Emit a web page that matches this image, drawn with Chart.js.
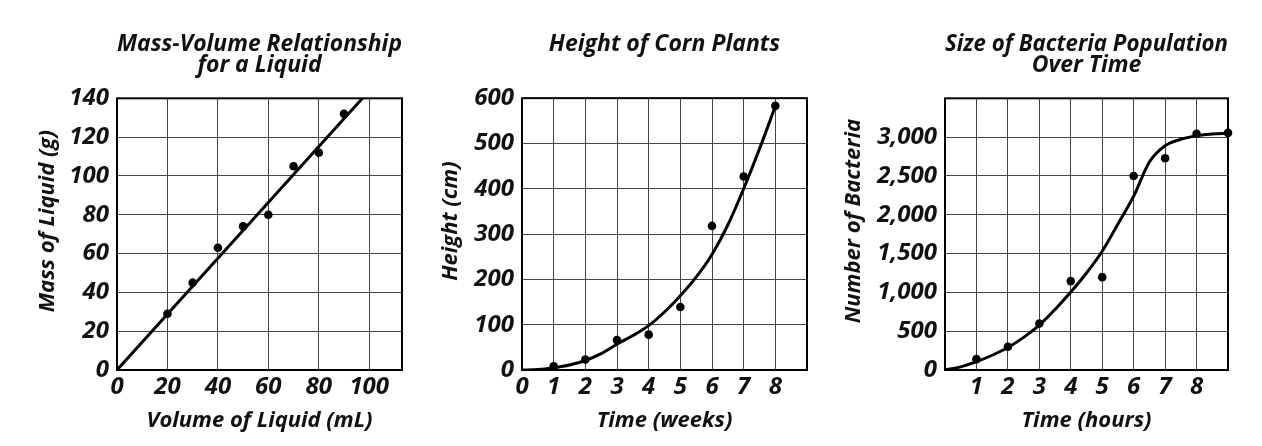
<!DOCTYPE html>
<html>
<head>
<meta charset="utf-8">
<script src="https://cdn.jsdelivr.net/npm/chart.js@4.4.0/dist/chart.umd.min.js"></script>
<style>
  html, body { margin: 0; padding: 0; background: #fff; }
  #wrap { position: relative; width: 1262px; height: 446px; background: #fff; overflow: hidden; }
  canvas { position: absolute; top: 0; }
</style>
</head>
<body>
<div id="wrap">
  <canvas id="c1" width="420" height="446" style="left:0px"></canvas>
  <canvas id="c2" width="420" height="446" style="left:420px"></canvas>
  <canvas id="c3" width="422" height="446" style="left:840px"></canvas>
</div>
<script>
// ---------- Chart 1: Mass-Volume Relationship ----------
const massTitle = ['Mass-Volume Relationship', 'for a Liquid'];
const massXLabel = 'Volume of Liquid (mL)';
const massYLabel = 'Mass of Liquid (g)';
const massVolume = [20, 30, 40, 50, 60, 70, 80, 90];
const massValues = [29, 45, 63, 74, 80, 105, 112, 132];
const massFitX = [0, 97.3];
const massFitY = [0, 140];
const massXTicks = [0, 20, 40, 60, 80, 100];
const massYTicks = [0, 20, 40, 60, 80, 100, 120, 140];

// ---------- Chart 2: Height of Corn Plants ----------
const cornTitle = ['Height of Corn Plants'];
const cornXLabel = 'Time (weeks)';
const cornYLabel = 'Height (cm)';
const cornWeeks = [1, 2, 3, 4, 5, 6, 7, 8];
const cornHeights = [8, 23, 66, 78, 139, 318, 427, 583];
const cornFitX = [0, 0.5, 1, 1.5, 2, 2.5, 3, 3.5, 4, 4.5, 5, 5.5, 6, 6.5, 7, 7.5, 8];
const cornFitY = [0, 1, 5, 11, 21, 36, 57, 76, 98, 128, 164, 205, 255, 320, 400, 488, 582];
const cornXTicks = [0, 1, 2, 3, 4, 5, 6, 7, 8];
const cornYTicks = [0, 100, 200, 300, 400, 500, 600];

// ---------- Chart 3: Size of Bacteria Population ----------
const bactTitle = ['Size of Bacteria Population', 'Over Time'];
const bactXLabel = 'Time (hours)';
const bactYLabel = 'Number of Bacteria';
const bactHours = [1, 2, 3, 4, 5, 6, 7, 8, 9];
const bactCounts = [140, 300, 600, 1145, 1196, 2500, 2727, 3043, 3055];
const bactFitX = [0, 0.5, 1, 1.5, 2, 2.5, 3, 3.5, 4, 4.5, 5, 5.5, 6, 6.5, 7, 7.5, 8, 8.5, 9];
const bactFitY = [0, 40, 107, 190, 290, 420, 577, 780, 1004, 1250, 1530, 1880, 2240, 2680, 2890, 2972, 3016, 3040, 3050];
const bactXTicks = [1, 2, 3, 4, 5, 6, 7, 8];
const bactYTicks = [0, 500, 1000, 1500, 2000, 2500, 3000];

const FONT = '"Open Sans", "DejaVu Sans", sans-serif';
const tickFont = { family: FONT, size: 24, style: 'italic', weight: '700', lineHeight: 1.1 };
const titleFont = { family: FONT, size: 23, style: 'italic', weight: '700', lineHeight: 0.92 };
const axisFont = { family: FONT, size: 22, style: 'italic', weight: '700', lineHeight: 1.1 };

const frame = {
  id: 'frame',
  afterDatasetsDraw(chart) {
    const a = chart.chartArea, c = chart.ctx;
    c.save();
    c.strokeStyle = '#000';
    c.lineWidth = 2;
    c.strokeRect(a.left, a.top, a.right - a.left, a.bottom - a.top);
    c.restore();
  },
  afterDraw(chart) {
    const o = chart.options.plugins.frame;
    if (!o || !o.yTitle) return;
    const a = chart.chartArea, c = chart.ctx;
    c.save();
    c.translate(o.yTitleX, (a.top + a.bottom) / 2 + o.yTitleDy);
    c.rotate(-Math.PI / 2);
    c.font = 'italic 700 ' + axisFont.size + 'px ' + FONT;
    c.fillStyle = '#111';
    c.textAlign = 'center';
    c.textBaseline = 'middle';
    c.fillText(o.yTitle, 0, 0);
    c.restore();
  }
};

function pts(xs, ys) { return xs.map((x, i) => ({ x: x, y: ys[i] })); }

function make(id, cfg) {
  const fmt = cfg.fmt || (v => String(v));
  return new Chart(document.getElementById(id), {
    type: 'scatter',
    data: {
      datasets: [
        {
          data: pts(cfg.fitX, cfg.fitY),
          showLine: true,
          borderColor: '#000',
          borderWidth: 3,
          pointRadius: 0,
          cubicInterpolationMode: 'monotone',
          fill: false
        },
        {
          data: pts(cfg.px, cfg.py),
          backgroundColor: '#000',
          borderColor: '#000',
          pointRadius: 4.3,
          pointBorderWidth: 0,
          clip: false
        }
      ]
    },
    plugins: [frame],
    options: {
      responsive: false,
      animation: false,
      events: [],
      layout: { padding: { left: 0, right: cfg.padRight, top: 0, bottom: 0 } },
      plugins: {
        legend: { display: false },
        tooltip: { enabled: false },
        title: {
          display: true,
          text: cfg.title,
          fullSize: false,
          color: '#111',
          font: titleFont,
          padding: { top: 34, bottom: cfg.titleBottom }
        },
        frame: { yTitle: cfg.yLabel, yTitleX: cfg.yTitleX, yTitleDy: -13 }
      },
      scales: {
        x: {
          type: 'linear',
          min: cfg.xMin, max: cfg.xMax,
          afterFit: s => { s.height = 76; },
          afterBuildTicks: s => { s.ticks = cfg.xTicks.map(v => ({ value: v })); },
          grid: { color: '#444', lineWidth: 1, drawTicks: false },
          border: { display: false },
          ticks: { color: '#111', font: tickFont, padding: 4, maxRotation: 0, autoSkip: false, callback: v => String(v) },
          title: { display: true, text: cfg.xLabel, color: '#111', font: axisFont, padding: { top: 0, bottom: 13 } }
        },
        y: {
          type: 'linear',
          min: cfg.yMin, max: cfg.yMax,
          afterFit: s => { s.width = cfg.plotLeft; },
          afterBuildTicks: s => { s.ticks = cfg.yTicks.map(v => ({ value: v })); },
          grid: { color: '#444', lineWidth: 1, drawTicks: false },
          border: { display: false },
          ticks: { color: '#111', font: tickFont, padding: 8, autoSkip: false, callback: v => fmt(v) },
          title: { display: false }
        }
      }
    }
  });
}

make('c1', {
  title: massTitle, titleBottom: 22, xLabel: massXLabel, yLabel: massYLabel, yTitleX: 48,
  fitX: massFitX, fitY: massFitY, px: massVolume, py: massValues,
  xMin: 0, xMax: 113, yMin: 0, yMax: 140, xTicks: massXTicks, yTicks: massYTicks,
  plotLeft: 117, padRight: 18
});

make('c2', {
  title: cornTitle, titleBottom: 43, xLabel: cornXLabel, yLabel: cornYLabel, yTitleX: 31,
  fitX: cornFitX, fitY: cornFitY, px: cornWeeks, py: cornHeights,
  xMin: 0, xMax: 9, yMin: 0, yMax: 600, xTicks: cornXTicks, yTicks: cornYTicks,
  plotLeft: 102, padRight: 33
});

make('c3', {
  title: bactTitle, titleBottom: 22, xLabel: bactXLabel, yLabel: bactYLabel, yTitleX: 14,
  fitX: bactFitX, fitY: bactFitY, px: bactHours, py: bactCounts,
  xMin: 0, xMax: 9, yMin: 0, yMax: 3500, xTicks: bactXTicks, yTicks: bactYTicks,
  plotLeft: 105, padRight: 34,
  fmt: v => v.toLocaleString('en-US')
});
</script>
</body>
</html>
